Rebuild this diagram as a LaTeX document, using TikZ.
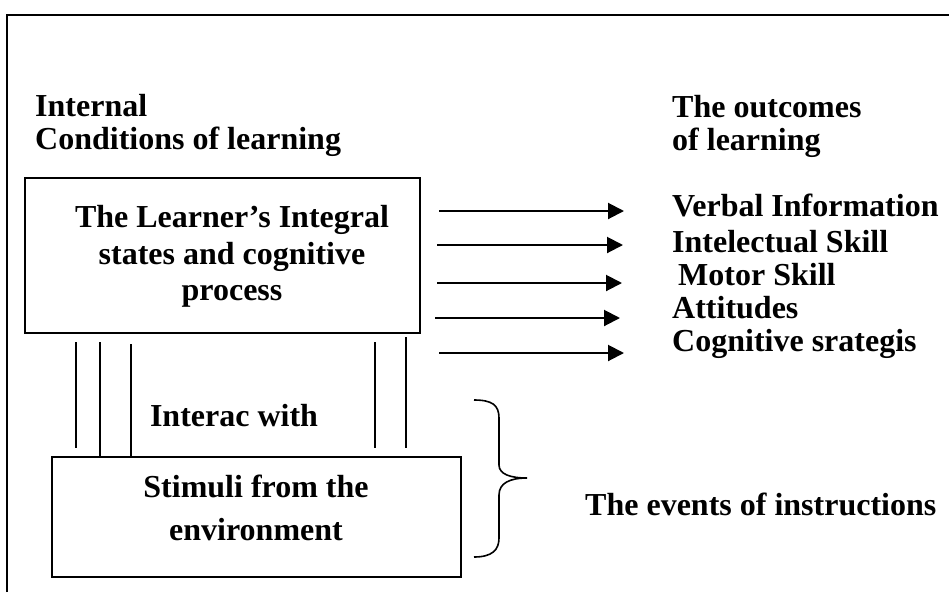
\documentclass[tikz,border=0pt]{standalone}
\usepackage{fontspec}
\setmainfont{Liberation Serif}
\usetikzlibrary{arrows.meta}
\tikzset{
  txt/.style={anchor=base west, inner sep=0pt, font=\fontsize{32}{37}\selectfont\bfseries},
  ctxt/.style={anchor=base, inner sep=0pt, font=\fontsize{32}{37}\selectfont\bfseries},
  boxframe/.style={draw, line width=2pt, inner sep=0pt},
  outarrow/.style={line width=2pt, -{Triangle[length=16pt,width=16pt]}},
  link/.style={line width=1.5pt},
  frameline/.style={line width=2.5pt}
}
\begin{document}
\begin{tikzpicture}[x=1pt,y=-1pt]
\useasboundingbox (0,0) rectangle (949,592);
% outer frame (top and left only visible)
\coordinate (fl) at (7,592);
\coordinate (ftl) at (7,15);
\coordinate (ftr) at (949,15);
\draw[frameline] (fl) -- (ftl) -- (ftr);

% headings
\node[txt] (int1) at (35,116) {Internal};
\node[txt] (int2) at (35,149) {Conditions of learning};
\node[txt] (out1) at (672,117) {The outcomes};
\node[txt] (out2) at (672,150) {of learning};

% learner box
\node[boxframe, minimum width=395pt, minimum height=155pt] (learner) at (222.5,255.5) {};
\node[ctxt] (l1) at (232,227) {The Learner’s Integral};
\node[ctxt] (l2) at (232,264) {states and cognitive};
\node[ctxt] (l3) at (232,300) {process};

% stimuli box
\node[boxframe, minimum width=409pt, minimum height=120pt] (stim) at (256.5,517) {};
\node[ctxt] (s1) at (256,497) {Stimuli from the};
\node[ctxt] (s2) at (256,540) {environment};
\node[ctxt] (inter) at (234,426) {Interac with};

% connecting vertical lines
\coordinate (v1t) at (76,342);  \coordinate (v1b) at (76,448);
\coordinate (v2t) at (100,342); \coordinate (v2b) at (100,457);
\coordinate (v3t) at (131,344); \coordinate (v3b) at (131,457);
\coordinate (v4t) at (375,342); \coordinate (v4b) at (375,448);
\coordinate (v5t) at (406,337); \coordinate (v5b) at (406,448);
\draw[link] (v1t) -- (v1b);
\draw[link] (v2t) -- (v2b);
\draw[link] (v3t) -- (v3b);
\draw[link] (v4t) -- (v4b);
\draw[link] (v5t) -- (v5b);

% outcomes
\node[txt] (o1) at (672,216) {Verbal Information};
\node[txt] (o2) at (672,252) {Intelectual Skill};
\node[txt] (o3) at (678,285) {Motor Skill};
\node[txt] (o4) at (672,318) {Attitudes};
\node[txt] (o5) at (672,351) {Cognitive srategis};

% arrows
\coordinate (a1s) at (439,211); \coordinate (a1e) at (624,211);
\coordinate (a2s) at (437,245); \coordinate (a2e) at (623,245);
\coordinate (a3s) at (437,283); \coordinate (a3e) at (622,283);
\coordinate (a4s) at (435,318); \coordinate (a4e) at (620,318);
\coordinate (a5s) at (439,353); \coordinate (a5e) at (624,353);
\draw[outarrow] (a1s) -- (a1e);
\draw[outarrow] (a2s) -- (a2e);
\draw[outarrow] (a3s) -- (a3e);
\draw[outarrow] (a4s) -- (a4e);
\draw[outarrow] (a5s) -- (a5e);

% brace
\coordinate (bt) at (474,400);
\coordinate (bb) at (474,557);
\coordinate (btip) at (527,478);
\draw[line width=1.6pt] (bt) .. controls (492,400) and (499,405) .. (499,418) -- (499,465)
  .. controls (499,474) and (510,478) .. (btip)
  .. controls (510,478) and (499,483) .. (499,495) -- (499,538)
  .. controls (499,550) and (492,557) .. (bb);
\node[txt] (events) at (585,515) {The events of instructions};
\end{tikzpicture}
\end{document}
